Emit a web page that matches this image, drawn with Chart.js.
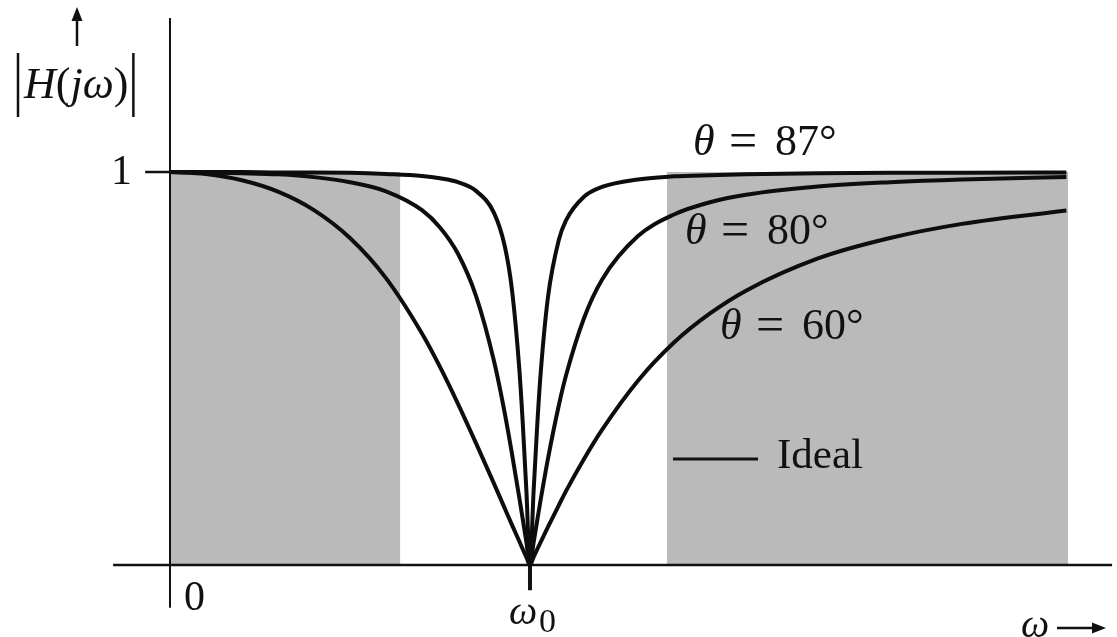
<!DOCTYPE html>
<html>
<head>
<meta charset="utf-8">
<script src="https://cdn.jsdelivr.net/npm/chart.js@4/dist/chart.umd.min.js"></script>
<style>
  html, body { margin: 0; padding: 0; background: #fff; }
  #wrap { width: 1117px; height: 637px; position: relative; }
</style>
</head>
<body>
<div id="wrap"><canvas id="notch"></canvas></div>
<script>
// frecuencia normalizada w/w0
const omega = [0, 0.1, 0.2, 0.3, 0.4, 0.5, 0.6, 0.7, 0.75, 0.8, 0.85, 0.9, 0.93, 0.95, 0.97, 0.98, 0.99, 1.0,
  1.01, 1.02, 1.03, 1.05, 1.08, 1.1, 1.15, 1.2, 1.3, 1.4, 1.5, 1.6, 1.8, 2.0, 2.2, 2.49];

// |H(jw)|
const theta60 = [1, 0.995, 0.979, 0.950, 0.903, 0.832, 0.730, 0.589, 0.504, 0.410, 0.310, 0.207, 0.144, 0.102, 0.061, 0.040, 0.020, 0,
  0.020, 0.040, 0.059, 0.097, 0.152, 0.188, 0.270, 0.344, 0.469, 0.566, 0.640, 0.698, 0.780, 0.832, 0.868, 0.902];
const theta80 = [1, 0.999, 0.997, 0.994, 0.987, 0.974, 0.951, 0.903, 0.859, 0.792, 0.685, 0.519, 0.386, 0.283, 0.173, 0.116, 0.058, 0,
  0.057, 0.113, 0.168, 0.271, 0.406, 0.482, 0.628, 0.726, 0.837, 0.892, 0.923, 0.942, 0.963, 0.974, 0.981, 0.987];
const theta87 = [1, 1, 1, 0.999, 0.999, 0.998, 0.995, 0.990, 0.984, 0.974, 0.952, 0.896, 0.811, 0.700, 0.503, 0.360, 0.189, 0,
  0.187, 0.354, 0.492, 0.682, 0.827, 0.877, 0.937, 0.962, 0.981, 0.989, 0.992, 0.994, 0.997, 0.998, 0.998, 0.999];

// bandas sombreadas (banda de paso ideal)
const shadeLeft = [0, 0.64];
const shadeRight = [1.38, 2.495];

// ejes
const xAxisRange = [-0.158, 2.617];
const yAxisRange = [-0.109, 1.392];
const yTickLabels = ['1'];
const xTickLabels = ['0', 'ω', '0'];
const curveLabels = ['87°', '80°', '60°'];

const serie = (ys) => omega.map((w, i) => ({ x: w, y: ys[i] }));
const seg = (a, b) => [a, b];

const curva = (ys) => ({
  data: serie(ys),
  borderColor: '#0d0d0d',
  borderWidth: 4,
  pointRadius: 0,
  cubicInterpolationMode: 'monotone',
  fill: false,
  order: 1
});
const banda = (r) => ({
  data: [{ x: r[0], y: 1 }, { x: r[1], y: 1 }],
  borderWidth: 0,
  borderColor: 'rgba(0,0,0,0)',
  backgroundColor: '#bababa',
  pointRadius: 0,
  fill: 'origin',
  order: 10
});
const linea = (pts, w) => ({
  data: pts,
  borderColor: '#111',
  borderWidth: w,
  pointRadius: 0,
  fill: false,
  order: 5
});

const SERIF = '"Liberation Serif", "DejaVu Serif", serif';

function rico(ctx, partes, x, y, size) {
  let cx = x;
  partes.forEach(([txt, it]) => {
    ctx.font = (it ? 'italic ' : '') + size + 'px ' + SERIF;
    ctx.fillText(txt, cx, y);
    cx += ctx.measureText(txt).width;
  });
  return cx;
}

function flecha(ctx, x1, y1, x2, y2) {
  const ang = Math.atan2(y2 - y1, x2 - x1);
  ctx.beginPath();
  ctx.moveTo(x1, y1);
  ctx.lineTo(x2 - 6 * Math.cos(ang), y2 - 6 * Math.sin(ang));
  ctx.lineWidth = 2.5;
  ctx.stroke();
  ctx.beginPath();
  ctx.moveTo(x2, y2);
  ctx.lineTo(x2 - 14 * Math.cos(ang) + 5.5 * Math.sin(ang), y2 - 14 * Math.sin(ang) - 5.5 * Math.cos(ang));
  ctx.lineTo(x2 - 14 * Math.cos(ang) - 5.5 * Math.sin(ang), y2 - 14 * Math.sin(ang) + 5.5 * Math.cos(ang));
  ctx.closePath();
  ctx.fill();
}

function barra(ctx, x, y1, y2) {
  ctx.beginPath();
  ctx.moveTo(x, y1);
  ctx.lineTo(x, y2);
  ctx.lineWidth = 2.5;
  ctx.stroke();
}

function etiquetaTheta(ctx, val, x, y) {
  ctx.font = 'italic 44px ' + SERIF;
  ctx.fillText('θ', x, y);
  ctx.font = '50px ' + SERIF;
  ctx.fillText('=', x + 36, y + 1);
  ctx.font = '44px ' + SERIF;
  ctx.fillText(val, x + 82, y);
}

const textos = {
  id: 'textos',
  afterDraw(chart) {
    const ctx = chart.ctx;
    const xs = chart.scales.x, ys = chart.scales.y;
    ctx.save();
    ctx.fillStyle = '#111';
    ctx.strokeStyle = '#111';
    ctx.textBaseline = 'middle';
    ctx.textAlign = 'left';

    // etiqueta eje y
    flecha(ctx, 77, 46, 77, 7);
    barra(ctx, 18, 53, 117);
    const fin = rico(ctx, [['H', true], ['(', false], ['jω', true], [')', false]], 24, 86, 44);
    barra(ctx, fin + 5, 53, 117);

    // tick "1"
    ctx.font = '42px ' + SERIF;
    ctx.textAlign = 'right';
    ctx.fillText(yTickLabels[0], xs.getPixelForValue(0) - 38, ys.getPixelForValue(1) + 1);

    // ticks eje x
    ctx.textAlign = 'left';
    ctx.fillText(xTickLabels[0], xs.getPixelForValue(0) + 14, ys.getPixelForValue(0) + 34);
    const w0 = xs.getPixelForValue(1);
    ctx.font = 'italic 40px ' + SERIF;
    ctx.fillText(xTickLabels[1], w0 - 21, ys.getPixelForValue(0) + 48);
    ctx.font = '34px ' + SERIF;
    ctx.fillText(xTickLabels[2], w0 + 9, ys.getPixelForValue(0) + 58);

    // etiqueta eje x
    ctx.font = 'italic 40px ' + SERIF;
    ctx.fillText('ω', 1021, 626);
    flecha(ctx, 1057, 628, 1106, 628);

    // curvas
    etiquetaTheta(ctx, curveLabels[0], 693, 143);
    etiquetaTheta(ctx, curveLabels[1], 685, 232);
    etiquetaTheta(ctx, curveLabels[2], 720, 327);

    // leyenda ideal
    ctx.beginPath();
    ctx.moveTo(673, 459);
    ctx.lineTo(758, 459);
    ctx.lineWidth = 3;
    ctx.stroke();
    ctx.font = '43px ' + SERIF;
    ctx.fillText('Ideal', 777, 457);
    ctx.restore();
  }
};

new Chart(document.getElementById('notch'), {
  type: 'line',
  data: {
    datasets: [
      curva(theta87),
      curva(theta80),
      curva(theta60),
      banda(shadeLeft),
      banda(shadeRight),
      linea(seg({ x: xAxisRange[0], y: 0 }, { x: xAxisRange[1], y: 0 }), 2.5),
      linea(seg({ x: 0, y: yAxisRange[0] }, { x: 0, y: yAxisRange[1] }), 2),
      linea(seg({ x: -0.069, y: 1 }, { x: 0, y: 1 }), 2.5),
      linea(seg({ x: 1, y: 0 }, { x: 1, y: -0.064 }), 4)
    ]
  },
  options: {
    responsive: true,
    maintainAspectRatio: false,
    animation: false,
    layout: { padding: 0 },
    plugins: { legend: { display: false }, tooltip: { enabled: false } },
    scales: {
      x: { type: 'linear', display: false, min: -0.4722, max: 2.6306 },
      y: { type: 'linear', display: false, min: -0.1832, max: 1.4377 }
    }
  },
  plugins: [textos]
});
</script>
</body>
</html>
